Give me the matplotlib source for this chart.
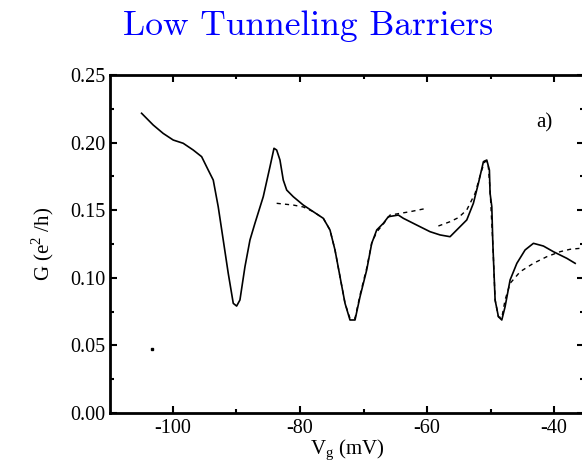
import numpy as np
import matplotlib.pyplot as plt
from matplotlib.ticker import MultipleLocator, FormatStrFormatter

plt.rcParams['axes.unicode_minus'] = False

# measured conductance (solid line)
vg_meas = [-104.93, -103.10, -101.53, -99.95, -98.38, -96.80, -95.48, -94.44, -93.65, -92.87,
           -92.08, -91.29, -90.50, -89.97, -89.45, -88.66, -87.87, -87.09, -85.78, -84.72,
           -84.09, -83.67, -83.15, -82.63, -82.09, -81.06, -79.48, -77.91, -76.33, -75.28,
           -74.49, -73.70, -72.91, -72.13, -71.34, -70.55, -69.50, -68.71, -67.92, -66.88,
           -66.09, -64.52, -63.73, -61.62, -59.53, -57.95, -56.38, -55.32, -53.75, -52.71,
           -51.92, -51.13, -50.60, -50.19, -50.08, -49.81, -49.65, -49.29, -48.77, -48.24,
           -47.72, -46.93, -45.87, -44.57, -43.26, -41.69, -40.11, -38.00, -36.69]
g_meas = [0.2217, 0.2130, 0.2068, 0.2019, 0.1995, 0.1945, 0.1896, 0.1797, 0.1723, 0.1526,
          0.1280, 0.1033, 0.0811, 0.0791, 0.0836, 0.1082, 0.1280, 0.1403, 0.1600, 0.1822,
          0.1958, 0.1945, 0.1871, 0.1723, 0.1649, 0.1600, 0.1538, 0.1489, 0.1440, 0.1354,
          0.1206, 0.1008, 0.0811, 0.0688, 0.0688, 0.0860, 0.1058, 0.1255, 0.1354, 0.1403,
          0.1452, 0.1464, 0.1440, 0.1390, 0.1341, 0.1317, 0.1304, 0.1354, 0.1428, 0.1551,
          0.1699, 0.1859, 0.1871, 0.1797, 0.1625, 0.1526, 0.1255, 0.0836, 0.0712, 0.0688,
          0.0786, 0.0984, 0.1107, 0.1206, 0.1255, 0.1235, 0.1193, 0.1144, 0.1107]

# fitted curves (dashed lines)
vg_fit1 = [-83.67, -81.06, -79.48, -77.91, -76.33, -75.28, -74.49, -73.70, -72.91, -72.13,
           -71.34, -70.55, -69.50, -68.71, -67.92, -66.88, -65.83, -62.67, -60.05]
g_fit1 = [0.1551, 0.1538, 0.1524, 0.1489, 0.1440, 0.1354, 0.1206, 0.1008, 0.0811, 0.0700,
          0.0700, 0.0873, 0.1072, 0.1257, 0.1339, 0.1398, 0.1464, 0.1489, 0.1514]
vg_fit2 = [-58.22, -56.38, -55.07, -53.75, -52.44, -51.39, -50.87, -50.40, -50.08, -49.65,
           -49.29, -48.77, -48.24, -47.72, -46.93, -45.35, -43.26, -41.16, -39.06, -37.48,
           -35.91]
g_fit2 = [0.1383, 0.1415, 0.1445, 0.1502, 0.1625, 0.1797, 0.1864, 0.1849, 0.1649, 0.1255,
          0.0836, 0.0712, 0.0703, 0.0836, 0.0959, 0.1045, 0.1107, 0.1156, 0.1193, 0.1211,
          0.1218]

fig = plt.figure(figsize=(5.82, 4.68), dpi=100)
ax = fig.add_axes([110 / 582, 55 / 468, 474 / 582, 338 / 468])

ax.plot(vg_meas, g_meas, color="black", lw=1.2)
ax.plot(vg_fit1, g_fit1, color="black", lw=1.0, ls=(0, (3, 3)))
ax.plot(vg_fit2, g_fit2, color="black", lw=1.0, ls=(0, (3, 3)))
ax.plot([-103.31], [0.0473], marker="s", ms=1.5, color="black")

ax.set_xlim(-109.9, -35.3)
ax.set_ylim(0, 0.25)
ax.xaxis.set_major_locator(MultipleLocator(20))
ax.xaxis.set_minor_locator(MultipleLocator(10))
ax.yaxis.set_major_locator(MultipleLocator(0.05))
ax.yaxis.set_minor_locator(MultipleLocator(0.025))
ax.yaxis.set_major_formatter(FormatStrFormatter("%.2f"))
ax.tick_params(which="both", direction="in", top=True, right=True, width=1.5)
ax.tick_params(which="major", length=5, labelsize=14.5)
ax.tick_params(which="minor", length=3)
ax.tick_params(axis="x", pad=4)
for lab in ax.get_xticklabels() + ax.get_yticklabels():
    lab.set_fontfamily("Liberation Serif")
for s in ax.spines.values():
    s.set_linewidth(2)

ax.set_xlabel("V$_\\mathregular{g}$ (mV)", fontfamily="Liberation Serif", fontsize=15, labelpad=0)
ax.set_ylabel("G (e$^\\mathregular{2}$ /h)", fontfamily="Liberation Serif", fontsize=15, labelpad=10)
ax.text(0.917, 0.858, "a)", transform=ax.transAxes, fontfamily="Liberation Serif",
        fontsize=15, ha="center", va="center")

fig.text(0.529, 1 - 35 / 468, "Low Tunneling Barriers", color="blue", fontfamily="cmr10",
         fontsize=25.5, ha="center", va="baseline")

fig.savefig("out.png", dpi=100)
